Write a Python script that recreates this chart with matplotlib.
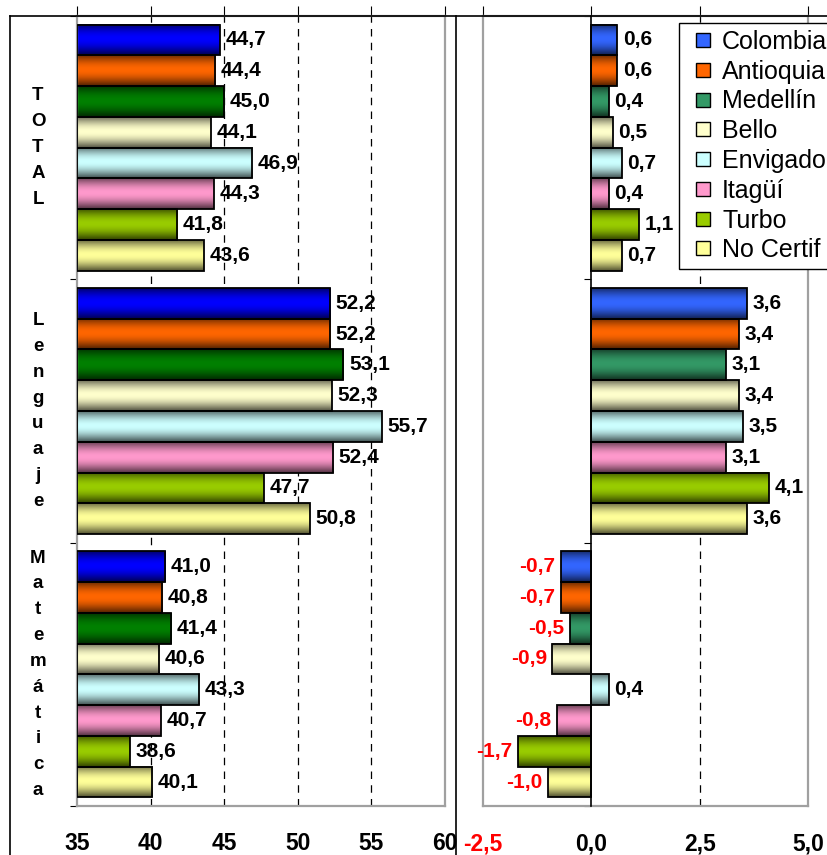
import numpy as np
import matplotlib.pyplot as plt
import matplotlib.colors as mcolors
from matplotlib.lines import Line2D
from matplotlib.transforms import blended_transform_factory

plt.rcParams['font.family'] = ['Liberation Sans', 'DejaVu Sans']

places = ["Colombia", "Antioquia", "Medellín", "Bello", "Envigado", "Itagüí", "Turbo", "No Certif"]
groups = ["TOTAL", "Lenguaje", "Matemática"]

# puntajes promedio
total_scores = [44.7, 44.4, 45.0, 44.1, 46.9, 44.3, 41.8, 43.6]
lenguaje_scores = [52.2, 52.2, 53.1, 52.3, 55.7, 52.4, 47.7, 50.8]
matematica_scores = [41.0, 40.8, 41.4, 40.6, 43.3, 40.7, 38.6, 40.1]

# variacion
total_change = [0.6, 0.6, 0.4, 0.5, 0.7, 0.4, 1.1, 0.7]
lenguaje_change = [3.6, 3.4, 3.1, 3.4, 3.5, 3.1, 4.1, 3.6]
matematica_change = [-0.7, -0.7, -0.5, -0.9, 0.4, -0.8, -1.7, -1.0]

left_ticks = [35, 40, 45, 50, 55, 60]
right_ticks = [-2.5, 0.0, 2.5, 5.0]

left_colors = ["#0000FF", "#FF6600", "#008000", "#FFFFCC", "#CCFFFF", "#FF99CC", "#99CC00", "#FFFF99"]
right_colors = ["#3366FF", "#FF6600", "#339966", "#FFFFCC", "#CCFFFF", "#FF99CC", "#99CC00", "#FFFF99"]

W, H = 828, 855
fig = plt.figure(figsize=(W / 100, H / 100), dpi=100)
ax1 = fig.add_axes([77 / W, 1 - 806 / H, (445 - 77) / W, (806 - 16) / H])
ax2 = fig.add_axes([483 / W, 1 - 806 / H, (808 - 483) / W, (806 - 16) / H])

n = len(places)
block = 0.935
bh = block / n
t = np.linspace(0, 1, 64)
# sombreado tipo Excel: bordes oscuros, centro claro
prof = 0.33 + 0.67 * np.sin(np.pi * (0.06 + 0.94 * t)) ** 1.1


def fmt(v):
    return f"{v:.1f}".replace(".", ",")


def draw_panel(ax, data, colors, base):
    for g, vals in enumerate(data):
        ys = [g + (j - (n - 1) / 2) * bh for j in range(n)]
        bars = ax.barh(ys, np.array(vals) - base, left=base, height=bh,
                       color=colors, edgecolor="black", linewidth=1.3, zorder=3)
        for p, c, v, y in zip(bars.patches, colors, vals, ys):
            x0 = p.get_x()
            x1 = x0 + p.get_width()
            img = np.array(mcolors.to_rgb(c))[None, None, :] * prof[:, None, None]
            ax.imshow(img, extent=(min(x0, x1), max(x0, x1), p.get_y() + p.get_height(), p.get_y()),
                      aspect="auto", zorder=2, interpolation="bilinear")
            p.set_facecolor("none")
            if v < 0:
                ax.annotate(fmt(v), (v, y), xytext=(-4, 0), textcoords="offset points",
                            ha="right", va="center", fontsize=15, fontweight="bold", color="red", zorder=5)
            else:
                ax.annotate(fmt(v), (v, y), xytext=(4, 0), textcoords="offset points",
                            ha="left", va="center", fontsize=15, fontweight="bold", color="black", zorder=5)


draw_panel(ax1, [total_scores, lenguaje_scores, matematica_scores], left_colors, left_ticks[0])
draw_panel(ax2, [total_change, lenguaje_change, matematica_change], right_colors, 0)

bounds = [-0.5, 0.5, 1.5, 2.5]
for ax in (ax1, ax2):
    ax.set_ylim(2.5, -0.5)
    ax.set_yticks(bounds)
    ax.set_yticklabels([])
    ax.tick_params(axis="y", direction="out", length=5, color="black")
    ax.tick_params(axis="x", bottom=False, top=True, labelbottom=True, labeltop=False,
                   direction="out", length=7, pad=12, labelsize=16.5)
    for s in ax.spines.values():
        s.set_color("#A0A0A0")
        s.set_linewidth(1.6)
    ax.set_facecolor("white")

ax1.set_xlim(left_ticks[0], left_ticks[-1])
ax1.set_xticks(left_ticks)
ax1.set_xticklabels([str(v) for v in left_ticks], fontweight="bold")
for v in left_ticks[1:-1]:
    ax1.axvline(v, color="black", lw=0.9, dashes=(6, 5), zorder=1)

ax2.set_xlim(right_ticks[0], right_ticks[-1])
ax2.set_xticks(right_ticks)
ax2.set_xticklabels([fmt(v) for v in right_ticks], fontweight="bold")
ax2.get_xticklabels()[0].set_color("red")
for v in right_ticks[2:-1]:
    ax2.axvline(v, color="black", lw=0.9, dashes=(6, 5), zorder=1)
ax2.spines["left"].set_position(("data", 0))
ax2.spines["left"].set_color("black")
ax2.spines["left"].set_linewidth(1.2)
ax2.spines["left"].set_zorder(4)
ax2.plot([0, 0], [0, 1], transform=ax2.transAxes, color="#A0A0A0", lw=1.6, clip_on=False)

# etiquetas de grupo en vertical
tr = blended_transform_factory(fig.transFigure, ax1.transData)
for g, name in enumerate(groups):
    ax1.text(38 / W, g, "\n".join(name), transform=tr, ha="center", va="center",
             fontsize=13.5, fontweight="bold", linespacing=1.68)

# marcos exteriores
fig.add_artist(Line2D([10 / W, 1], [1 - 16 / H] * 2, transform=fig.transFigure, color="black", lw=1.2))
fig.add_artist(Line2D([10 / W] * 2, [0, 1 - 16 / H], transform=fig.transFigure, color="black", lw=1.2))
fig.add_artist(Line2D([456 / W] * 2, [0, 1 - 16 / H], transform=fig.transFigure, color="black", lw=1.2))

handles = [Line2D([], [], linestyle="none", marker="s", markersize=9.4,
                  markerfacecolor=c, markeredgecolor="black", markeredgewidth=1) for c in right_colors]
leg = fig.legend(handles, places, loc="upper left", bbox_to_anchor=(679 / W, 1 - 23 / H),
                 borderaxespad=0, fancybox=False, edgecolor="black", framealpha=1,
                 prop={"size": 18}, handlelength=1.4, handletextpad=0.05,
                 labelspacing=0.23, borderpad=0.28)
leg.get_frame().set_linewidth(1.0)

fig.savefig("out.png", dpi=100)
